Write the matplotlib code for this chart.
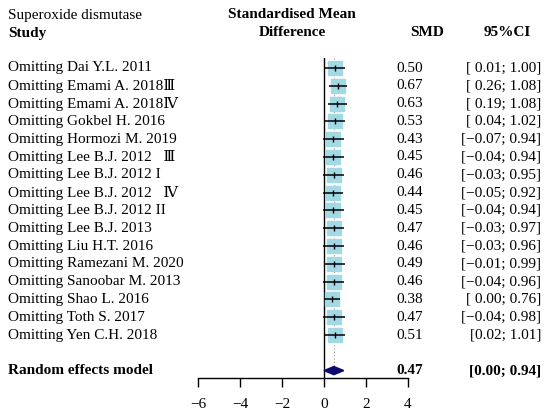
import numpy as np
import matplotlib
matplotlib.use("Agg")
import matplotlib.pyplot as plt
import matplotlib.transforms as mtrans

plt.rcParams['font.family'] = ['Liberation Serif', 'DejaVu Serif']

# data
studies = ["Omitting Dai Y.L. 2011", "Omitting Emami A. 2018\u2162",
           "Omitting Emami A. 2018\u2163", "Omitting Gokbel H. 2016",
           "Omitting Hormozi M. 2019", "Omitting Lee B.J. 2012   \u2162",
           "Omitting Lee B.J. 2012 I", "Omitting Lee B.J. 2012   \u2163",
           "Omitting Lee B.J. 2012 II", "Omitting Lee B.J. 2013",
           "Omitting Liu H.T. 2016", "Omitting Ramezani M. 2020",
           "Omitting Sanoobar M. 2013", "Omitting Shao L. 2016",
           "Omitting Toth S. 2017", "Omitting Yen C.H. 2018"]
smd = [0.50, 0.67, 0.63, 0.53, 0.43, 0.45, 0.46, 0.44, 0.45, 0.47,
       0.46, 0.49, 0.46, 0.38, 0.47, 0.51]
lower = [0.01, 0.26, 0.19, 0.04, -0.07, -0.04, -0.03, -0.05, -0.04, -0.03,
         -0.03, -0.01, -0.04, 0.00, -0.04, 0.02]
upper = [1.00, 1.08, 1.08, 1.02, 0.94, 0.94, 0.95, 0.92, 0.94, 0.97,
         0.96, 0.99, 0.96, 0.76, 0.98, 1.01]
ci_text = ["[ 0.01; 1.00]", "[ 0.26; 1.08]", "[ 0.19; 1.08]", "[ 0.04; 1.02]",
           "[\u22120.07; 0.94]", "[\u22120.04; 0.94]", "[\u22120.03; 0.95]",
           "[\u22120.05; 0.92]", "[\u22120.04; 0.94]", "[\u22120.03; 0.97]",
           "[\u22120.03; 0.96]", "[\u22120.01; 0.99]", "[\u22120.04; 0.96]",
           "[ 0.00; 0.76]", "[\u22120.04; 0.98]", "[0.02; 1.01]"]
pooled = 0.47
pooled_lo, pooled_hi = 0.00, 0.94
xticks = [-6, -4, -2, 0, 2, 4]

W, H = 550, 420
fig = plt.figure(figsize=(5.5, 4.2), dpi=100)
# axes: x from -6..4 at px 198..408, bottom at px 378, top px 58
ax = fig.add_axes([198 / W, 1 - 378 / H, 210 / W, (378 - 58) / H])

row_px = 17.8
top_row_px = 68
n = len(studies)
rows = np.arange(n)
pooled_row = n + 1
ax.set_xlim(-6, 4)
ax.set_ylim((378 - top_row_px) / row_px, (58 - top_row_px) / row_px)

# zero line and pooled dotted line
ax.plot([0, 0], [ax.get_ylim()[1], ax.get_ylim()[0]], color='black', lw=1.0)
ax.plot([pooled, pooled], [ax.get_ylim()[1], pooled_row], color='#999999',
        lw=0.8, ls=(0, (1, 2)))

ax.plot(smd, rows, 's', color='#a3d8e5', markersize=10, zorder=2)
ax.hlines(rows, lower, upper, color='black', lw=1.1, zorder=3)
ax.plot(smd, rows, '|', color='black', markersize=5, mew=1.0, zorder=4)

# diamond
ax.fill([pooled_lo, pooled, pooled_hi, pooled],
        [pooled_row, pooled_row - 0.23, pooled_row, pooled_row + 0.23],
        color='#0b0b6e', zorder=4)

for s in ['top', 'right', 'left']:
    ax.spines[s].set_visible(False)
ax.spines['bottom'].set_linewidth(1.0)
ax.set_xticks(xticks)
ax.set_xticklabels(["\u22126", "\u22124", "\u22122", "0", "2", "4"])
ax.tick_params(axis='x', direction='out', length=6.5, width=1.0, pad=8,
               labelsize=11)
ax.set_yticks([])

tr = mtrans.blended_transform_factory(fig.transFigure, ax.transData)
fs = 11
for i in range(n):
    fig.text(8 / W, i, studies[i], transform=tr, fontsize=fs, va='center')
    fig.text(423 / W, i, "%.2f" % smd[i], transform=tr, fontsize=fs,
             va='center', ha='right')
    fig.text(541 / W, i, ci_text[i], transform=tr, fontsize=fs,
             va='center', ha='right')

fig.text(8 / W, pooled_row, "Random effects model", transform=tr,
         fontsize=fs, va='center', fontweight='bold')
fig.text(423 / W, pooled_row, "%.2f" % pooled, transform=tr, fontsize=fs,
         va='center', ha='right', fontweight='bold')
fig.text(541 / W, pooled_row, "[%.2f; %.2f]" % (pooled_lo, pooled_hi),
         transform=tr, fontsize=fs, va='center', ha='right', fontweight='bold')

# headers
fig.text(8 / W, 1 - 16 / H, "Superoxide dismutase", fontsize=fs, va='center')
fig.text(8 / W, 1 - 33 / H, "Study", fontsize=fs, va='center', fontweight='bold')
fig.text(292 / W, 1 - 14 / H, "Standardised Mean", fontsize=fs, va='center',
         ha='center', fontweight='bold')
fig.text(292 / W, 1 - 33 / H, "Difference", fontsize=fs, va='center',
         ha='center', fontweight='bold')
fig.text(427 / W, 1 - 33 / H, "SMD", fontsize=fs, va='center', ha='center',
         fontweight='bold')
fig.text(507 / W, 1 - 33 / H, "95%CI", fontsize=fs, va='center', ha='center',
         fontweight='bold')

fig.savefig("out.png", dpi=100)
